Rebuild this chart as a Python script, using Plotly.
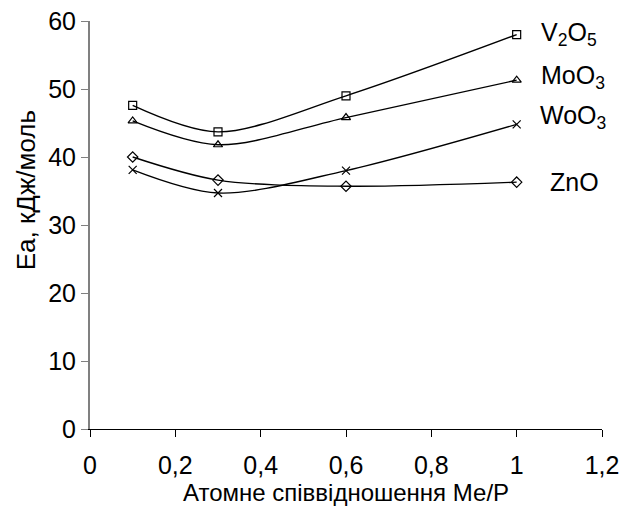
import plotly.graph_objects as go

ratio = [0.1, 0.3, 0.6, 1.0]
v2o5 = [47.6, 43.7, 49.0, 58.0]
moo3 = [45.3, 41.8, 45.8, 51.3]
woo3 = [38.1, 34.7, 38.0, 44.8]
zno = [40.0, 36.6, 35.7, 36.3]

series = [
    ("V<sub>2</sub>O<sub>5</sub>", v2o5, "square-open", 58.1),
    ("MoO<sub>3</sub>", moo3, "triangle-up-open", 51.8),
    ("WoO<sub>3</sub>", woo3, "x-thin-open", 45.9),
    ("ZnO", zno, "diamond-open", 36.3),
]

FONT = "Liberation Sans, Arial, sans-serif"
FS = 25
fig = go.Figure()
for name, vals, sym, ly in series:
    fig.add_trace(go.Scatter(
        x=ratio, y=vals, mode="lines+markers", name=name,
        line=dict(color="black", width=1.4, shape="spline", smoothing=0.9),
        marker=dict(symbol=sym, size=8, color="black", line=dict(color="black", width=1.2)),
        showlegend=False,
    ))

label_x = {"ZnO": 1.073, "WoO<sub>3</sub>": 1.05}
for name, vals, sym, ly in series:
    fig.add_annotation(
        x=label_x.get(name, 1.053), y=ly, xref="x", yref="y",
        text=name, showarrow=False, xanchor="left", yanchor="middle",
        font=dict(family=FONT, size=FS, color="black"),
    )

# y-axis title (placed slightly above the centre, as in the reference)
fig.add_annotation(
    text="Еа, кДж/моль", xref="paper", yref="paper", x=0, y=0.585,
    xshift=-64, textangle=-90, showarrow=False, xanchor="center", yanchor="middle",
    font=dict(family=FONT, size=26, color="black"),
)

fig.update_layout(
    width=627, height=506,
    margin=dict(l=90, r=25, t=21, b=77),
    paper_bgcolor="white", plot_bgcolor="white",
    font=dict(family=FONT, size=FS, color="black"),
)
fig.update_xaxes(
    range=[0, 1.2], tickvals=[0, 0.2, 0.4, 0.6, 0.8, 1.0, 1.2],
    ticktext=["0", "0,2", "0,4", "0,6", "0,8", "1", "1,2"],
    showgrid=False, zeroline=False, showline=True, linecolor="black", linewidth=1,
    ticks="outside", ticklen=7, tickcolor="black", ticklabelstandoff=7,
    title=dict(text="Атомне співвідношення Ме/Р", standoff=1, font=dict(size=24)),
    automargin=False,
)
fig.update_yaxes(
    range=[0, 60], tickvals=[0, 10, 20, 30, 40, 50, 60],
    showgrid=False, zeroline=False, showline=True, linecolor="#808080", linewidth=2,
    ticks="outside", ticklen=7, tickcolor="#808080",
    automargin=False,
)
fig.write_html("out.html")
